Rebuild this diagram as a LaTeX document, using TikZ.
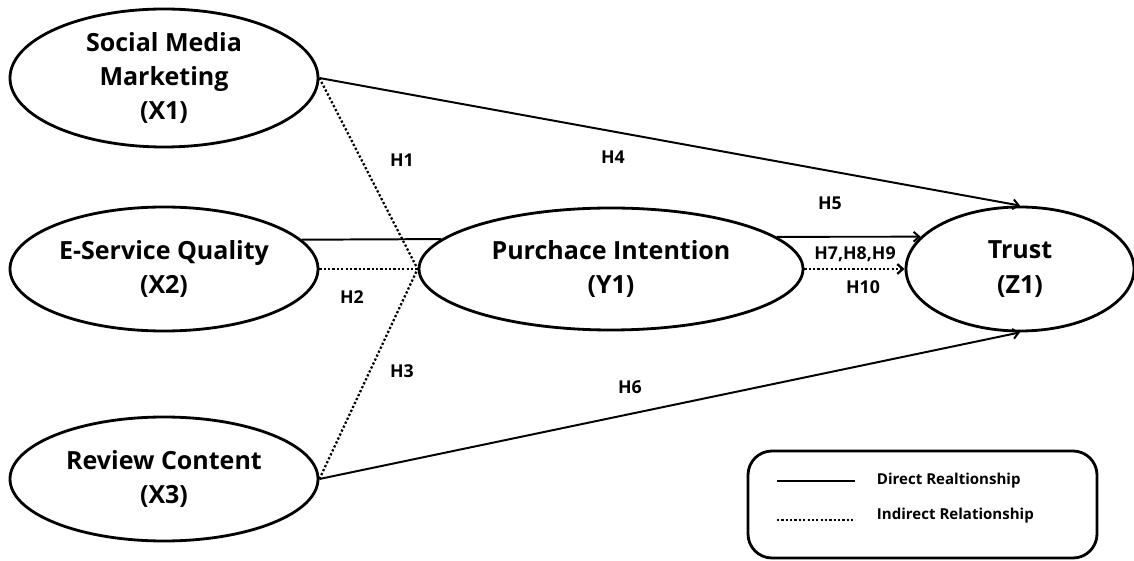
\documentclass[tikz,border=0pt]{standalone}
\usepackage{fontspec}
\setmainfont{Open Sans}
\usetikzlibrary{arrows.meta,shapes.geometric}

\begin{document}
\begin{tikzpicture}[>={Straight Barb[length=4pt,width=7pt]},
    latent/.style={ellipse, draw, line width=2pt, align=center, inner sep=1pt,
      font=\fontsize{17.8}{24.5}\selectfont\bfseries},
    direct/.style={line width=1.4pt},
    indirect/.style={line width=1.6pt, dash pattern=on 1.6pt off 1.5pt},
    hyp/.style={font=\fontsize{12.6}{14}\selectfont\bfseries},
    legtext/.style={font=\fontsize{10.7}{13}\selectfont\bfseries, anchor=west}]
  \useasboundingbox (0,0) rectangle (28.35,14);
  % constructs
  \node[latent, minimum width=7.7cm, minimum height=3.45cm] (X1) at (4.1,12.05) {Social Media\\Marketing\\(X1)};
  \node[latent, minimum width=7.7cm, minimum height=3.1cm] (X2) at (4.1,7.275) {E-Service Quality\\(X2)};
  \node[latent, minimum width=7.7cm, minimum height=3.1cm] (X3) at (4.1,2.025) {Review Content\\(X3)};
  \node[latent, minimum width=9.6cm, minimum height=3.05cm] (Y1) at (15.275,7.275) {Purchace Intention\\(Y1)};
  \node[latent, minimum width=5.7cm, minimum height=3.1cm] (Z1) at (25.5,7.275) {Trust\\(Z1)};
  % indirect paths
  \draw[indirect] (X1.east) -- (Y1.west);
  \draw[indirect] (X2.east) -- (Y1.west);
  \draw[indirect] (X3.east) -- (Y1.west);
  \draw[indirect,->] (Y1.east) -- (Z1.west);
  % direct paths
  \draw[direct] (X2.12) -- (Y1.170);
  \draw[direct,->] (X1.east) -- (Z1.north);
  \draw[direct,->] (X3.east) -- (Z1.south);
  \draw[direct,->] (Y1.11) -- (Z1.162);
  % hypotheses
  \node[hyp] (h1) at (10.05,10.0) {H1};
  \node[hyp] (h2) at (8.8,6.575) {H2};
  \node[hyp] (h3) at (10.05,4.725) {H3};
  \node[hyp] (h4) at (15.325,10.075) {H4};
  \node[hyp] (h5) at (20.75,8.925) {H5};
  \node[hyp] (h6) at (15.75,4.325) {H6};
  \node[hyp] (h789) at (21.375,7.65) {H7,H8,H9};
  \node[hyp] (h10) at (21.575,6.825) {H10};
  % legend
  \node[draw, line width=2pt, rounded corners=0.6cm, minimum width=8.725cm, minimum height=2.675cm] (legend) at (23.0625,1.3875) {};
  \coordinate (d1) at (19.425,1.975);
  \coordinate (d2) at (21.375,1.975);
  \coordinate (i1) at (19.425,1.0);
  \coordinate (i2) at (21.375,1.0);
  \draw[direct] (d1) -- (d2);
  \draw[indirect] (i1) -- (i2);
  \node[legtext] (dlab) at (21.8,1.975) {Direct Realtionship};
  \node[legtext] (ilab) at (21.8,1.1) {Indirect Relationship};
\end{tikzpicture}
\end{document}
